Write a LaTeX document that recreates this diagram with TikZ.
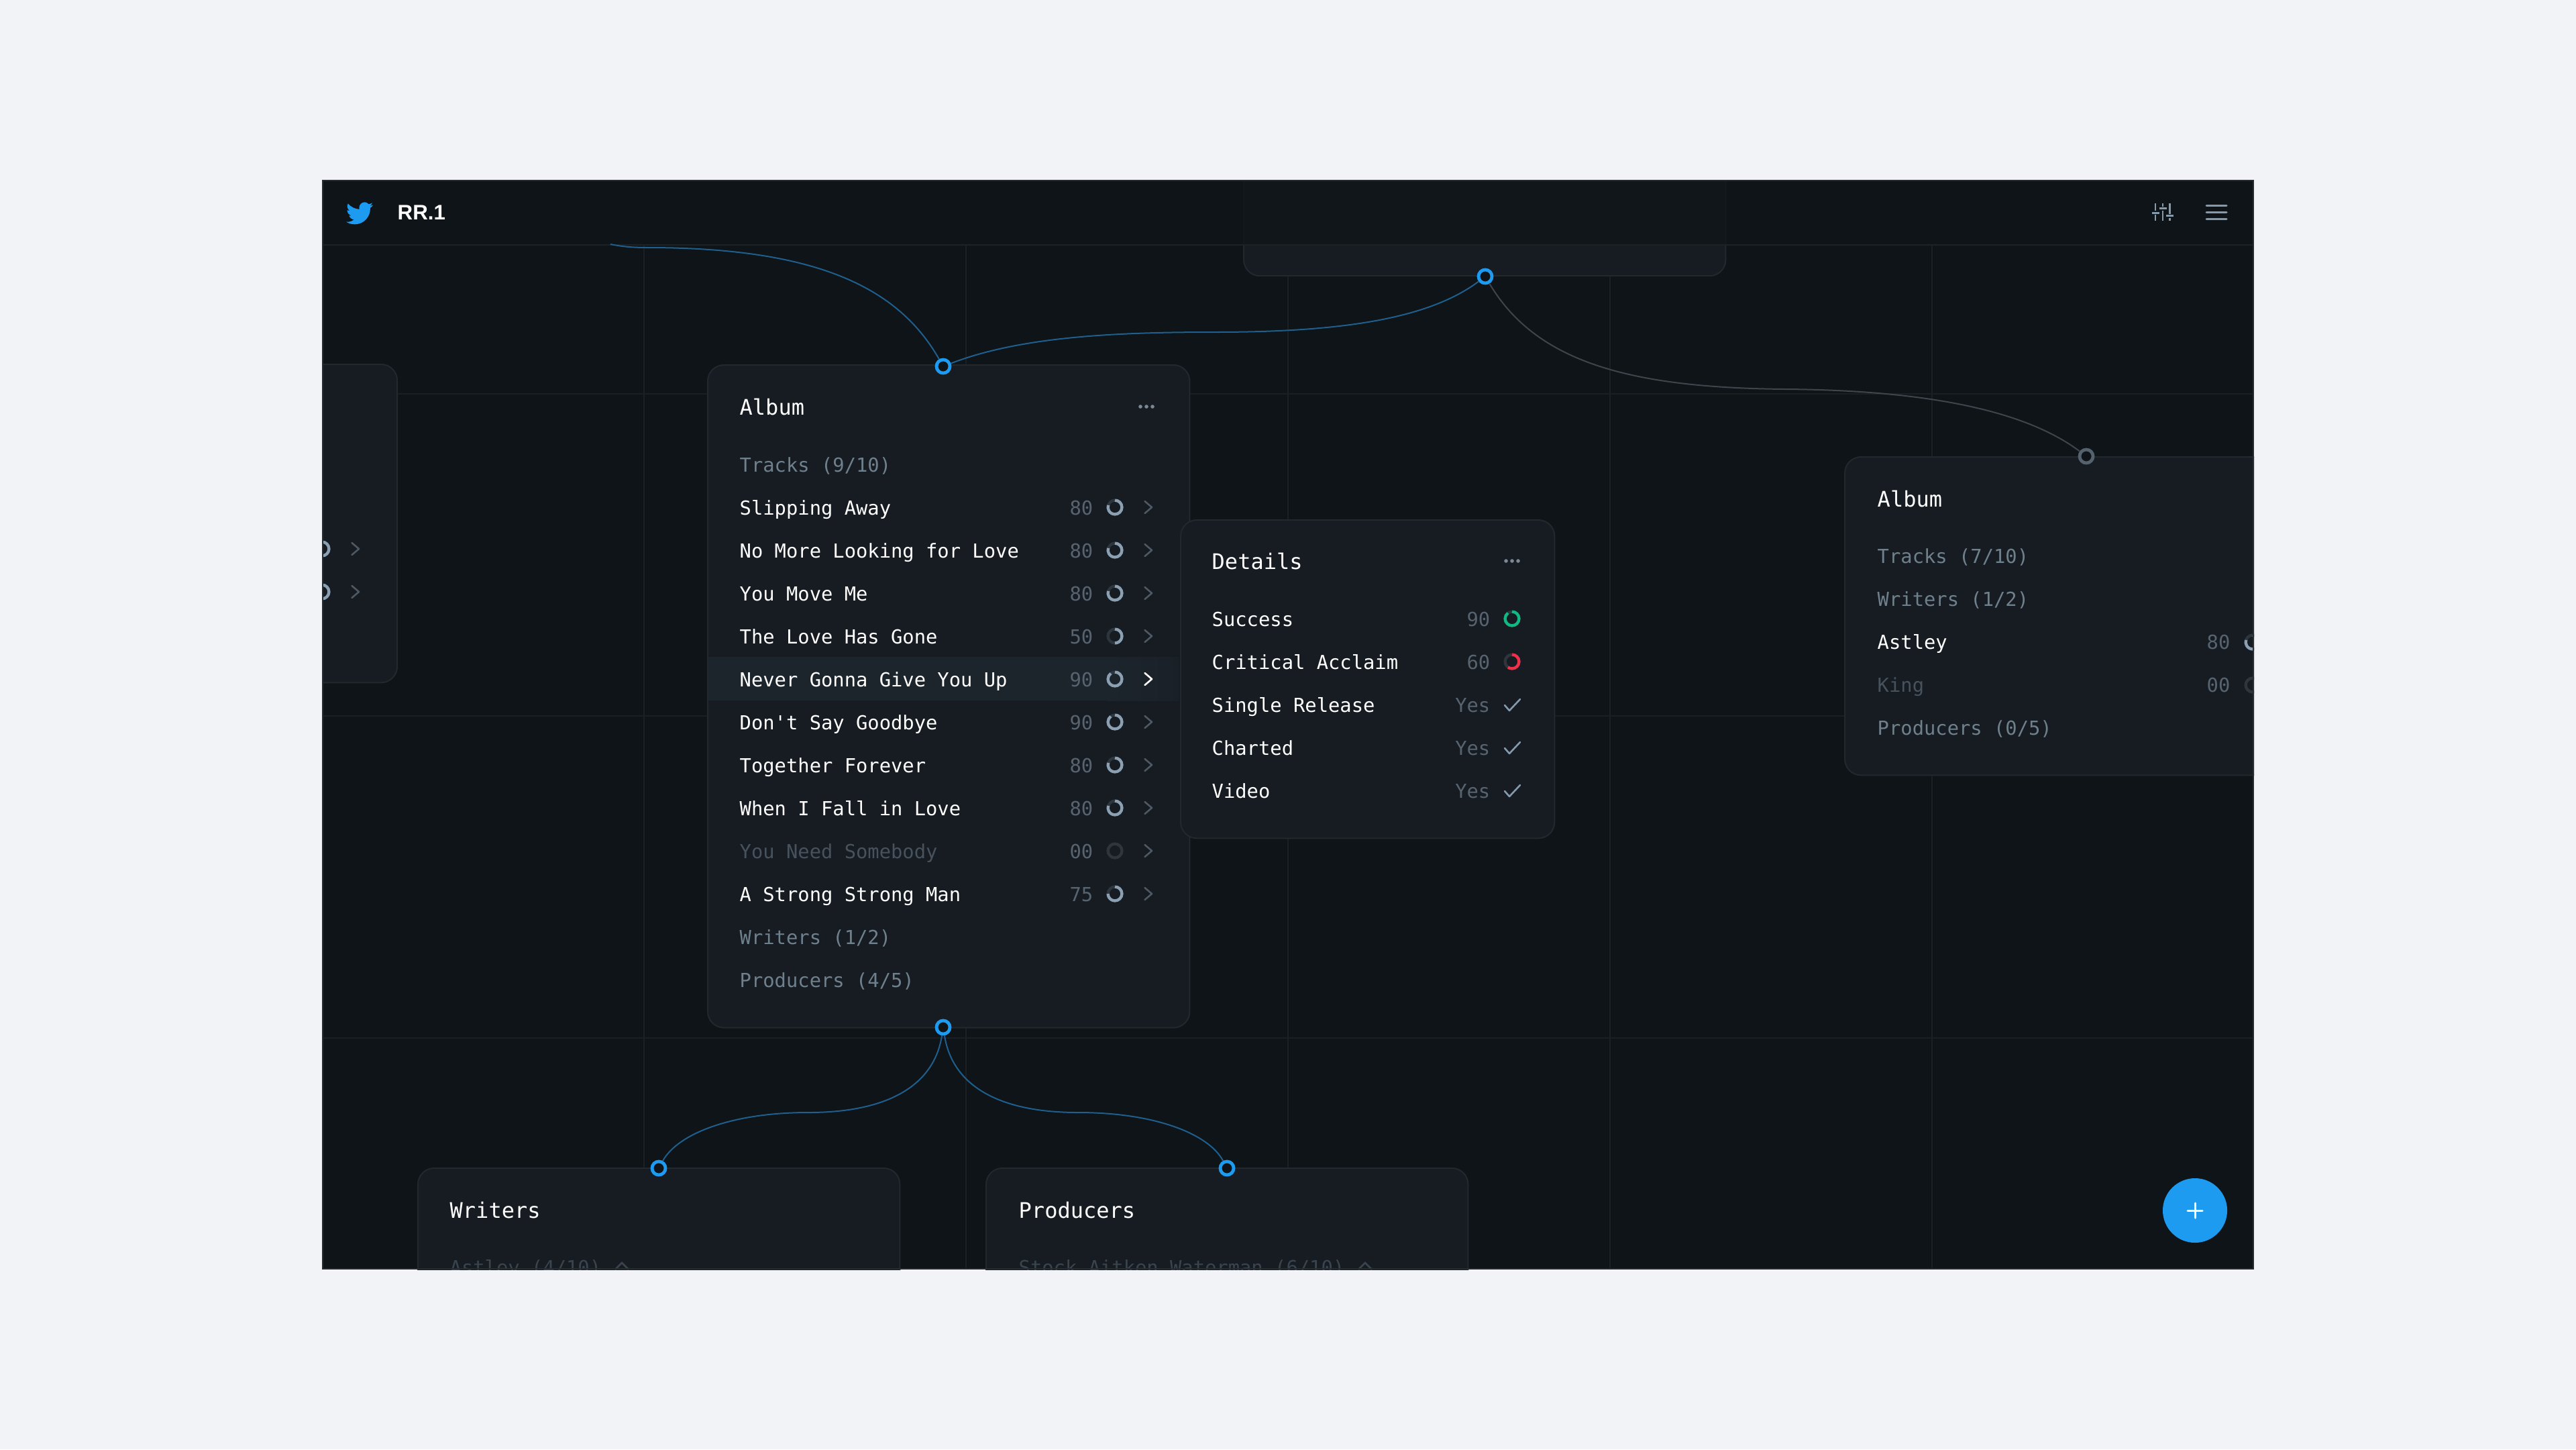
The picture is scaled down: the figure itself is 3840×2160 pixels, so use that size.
\documentclass[tikz,border=0pt]{standalone}
\usepackage{fontspec}
\setmainfont{Liberation Sans}
\setmonofont{DejaVu Sans Mono}
\definecolor{pagebg}{HTML}{F1F3F7}
\definecolor{appbg}{HTML}{0F1418}
\definecolor{cardbg}{HTML}{171C23}
\definecolor{cardline}{HTML}{23282F}
\definecolor{gridline}{HTML}{1A1F24}
\definecolor{frameline}{HTML}{272C31}
\definecolor{hilite}{HTML}{1D252C}
\definecolor{twblue}{HTML}{1D9BF0}
\definecolor{wireblue}{HTML}{1F5F8E}
\definecolor{wiregray}{HTML}{3E454C}
\definecolor{portgray}{HTML}{54626E}
\definecolor{txtmain}{HTML}{FFFFFF}
\definecolor{txtsect}{HTML}{6F808D}
\definecolor{txtdim}{HTML}{47525C}
\definecolor{txtnum}{HTML}{57646F}
\definecolor{txtcut}{HTML}{3A444E}
\definecolor{dotcol}{HTML}{7C8894}
\definecolor{chevgray}{HTML}{4E5862}
\definecolor{ringtrack}{HTML}{2E353D}
\definecolor{ringbar}{HTML}{8CA0B3}
\definecolor{okgreen}{HTML}{10B981}
\definecolor{badred}{HTML}{F0304A}
\definecolor{iconcol}{HTML}{8499AA}
\tikzset{
  cardbox/.style={draw=cardline, line width=0.02cm, fill=cardbg, rounded corners=0.24cm, inner sep=0pt, outer sep=0pt, anchor=north west},
  port/.style={circle, draw=twblue, line width=0.048cm, fill=appbg, minimum size=0.2cm, inner sep=0pt},
  wire/.style={draw=wireblue, line width=0.02cm},
  title/.style={anchor=base west, inner sep=0pt, text=txtmain, font=\fontsize{9.1}{11}\selectfont\ttfamily},
  rowtext/.style={anchor=base west, inner sep=0pt, font=\fontsize{8.19}{10}\selectfont\ttfamily},
  numtext/.style={anchor=base east, inner sep=0pt, text=txtnum, font=\fontsize{8.19}{10}\selectfont\ttfamily},
  chev/.style={line width=0.026cm, line cap=round, line join=round},
  tick/.style={draw=iconcol, line width=0.026cm, line cap=round, line join=round},
  iconbar/.style={draw=iconcol, line width=0.028cm}
}
% score ring: x, y, percent, colour
\newcommand{\scorering}[4]{
  \draw[ringtrack, line width=0.043cm] (#1,#2) circle (10.4);
  \draw[#4, line width=0.043cm] (#1,#2-10.4) arc[start angle=-90, delta angle=#3*3.6, radius=10.4];
}
\newcommand{\chevron}[3]{
  \draw[chev, #3] (#1-5.5,#2-9) -- (#1+5,#2) -- (#1-5.5,#2+9);
}
\newcommand{\threedots}[2]{
  \foreach \d in {-9,0,9} \fill[dotcol] (#1+\d,#2) circle (2.8);
}
\begin{document}
\begin{tikzpicture}[x=0.01cm, y=-0.01cm]
  \useasboundingbox (0,0) rectangle (3840,2160);
  \fill[pagebg] (0,0) rectangle (3840,2160);
  \begin{scope}
    \clip (480,268) rectangle (3360,1892);
    \fill[appbg] (480,268) rectangle (3360,1892);

    % Grid behind the cards
    \foreach \gx in {960,1440,1920,2400,2880} \draw[gridline, line width=0.02cm] (\gx,365) -- (\gx,1892);
    \foreach \gy in {587,1067,1547} \draw[gridline, line width=0.02cm] (480,\gy) -- (3360,\gy);

    % Cards
    \node[cardbox, minimum width=7.18cm, minimum height=3.11cm] (topcard) at (1854,100) {};
    \node[cardbox, minimum width=2.2cm, minimum height=4.74cm] (leftcard) at (372,543) {};
    \node[cardbox, minimum width=7.18cm, minimum height=9.87cm] (albumcard) at (1055,544) {};
    \node[cardbox, minimum width=7.5cm, minimum height=4.74cm] (sidecard) at (2750,681) {};
    \node[cardbox, minimum width=7.18cm, minimum height=3cm] (writercard) at (623,1741) {};
    \node[cardbox, minimum width=7.18cm, minimum height=3cm] (producercard) at (1470,1741) {};

    % Left card, only its rings and arrows are in view
    \foreach \ly in {818,882} {
      \scorering{480}{\ly}{90}{ringbar}
      \chevron{530}{\ly}{chevgray}
    }

    % Main album
    \node[title] (albumhead) at (1102,618) {Album};
    \threedots{1709}{606}
    \node[rowtext, text=txtsect] (albumtracks) at (1102,703) {Tracks (9/10)};
    \fill[hilite] (1056,979) rectangle (1650,1044);
    \shade[left color=hilite, right color=hilite!45!cardbg] (1650,979) rectangle (1757,1044);
    \foreach \i/\name/\val/\col/\arrow in {
      0/Slipping Away/80/txtmain/chevgray,
      1/No More Looking for Love/80/txtmain/chevgray,
      2/You Move Me/80/txtmain/chevgray,
      3/The Love Has Gone/50/txtmain/chevgray,
      4/Never Gonna Give You Up/90/txtmain/txtmain,
      5/Don't Say Goodbye/90/txtmain/chevgray,
      6/Together Forever/80/txtmain/chevgray,
      7/When I Fall in Love/80/txtmain/chevgray,
      8/You Need Somebody/00/txtdim/chevgray,
      9/A Strong Strong Man/75/txtmain/chevgray} {
      \pgfmathsetmacro\rowy{756+64*\i}
      \node[rowtext, text=\col] (track\i) at (1102,\rowy+11.5) {\name};
      \node[numtext] (score\i) at (1630,\rowy+11.5) {\val};
      \scorering{1662}{\rowy}{\val}{ringbar}
      \chevron{1712}{\rowy}{\arrow}
    }
    \node[rowtext, text=txtsect] (albumwriters) at (1102,1407) {Writers (1/2)};
    \node[rowtext, text=txtsect] (albumproducers) at (1102,1471) {Producers (4/5)};

    % Details card sits over the album edge
    \node[cardbox, minimum width=5.57cm, minimum height=4.74cm] (detailcard) at (1760,775) {};
    \node[title] (detailhead) at (1806,848) {Details};
    \threedots{2254}{836}
    \node[rowtext, text=txtmain] (success) at (1806,933) {Success};
    \node[numtext] (successval) at (2222,933) {90};
    \scorering{2254}{922}{90}{okgreen}
    \node[rowtext, text=txtmain] (acclaim) at (1806,997) {Critical Acclaim};
    \node[numtext] (acclaimval) at (2222,997) {60};
    \scorering{2254}{986}{60}{badred}
    \foreach \k/\name in {0/Single Release,1/Charted,2/Video} {
      \pgfmathsetmacro\rowy{1050+64*\k}
      \node[rowtext, text=txtmain] (flag\k) at (1806,\rowy+11) {\name};
      \node[numtext] (flagval\k) at (2222,\rowy+11) {Yes};
      \draw[tick] (2243,\rowy+1) -- (2250,\rowy+9) -- (2266,\rowy-8);
    }

    % Album on the right
    \node[title] (sidehead) at (2798,755) {Album};
    \node[rowtext, text=txtsect] (sidetracks) at (2798,839) {Tracks (7/10)};
    \node[rowtext, text=txtsect] (sidewriters) at (2798,903) {Writers (1/2)};
    \node[rowtext, text=txtmain] (sideastley) at (2798,967) {Astley};
    \node[numtext] (sideastleyval) at (3325,967) {80};
    \scorering{3358}{957}{80}{ringbar}
    \node[rowtext, text=txtdim] (sideking) at (2798,1031) {King};
    \node[numtext] (sidekingval) at (3325,1031) {00};
    \scorering{3358}{1021}{0}{ringbar}
    \node[rowtext, text=txtsect] (sideproducers) at (2798,1095) {Producers (0/5)};

    % Bottom cards, cut by the window
    \node[title] (writerhead) at (670,1815) {Writers};
    \node[title] (producerhead) at (1518,1815) {Producers};
    \node[rowtext, text=txtcut] (astley) at (670,1899) {Astley (4/10)};
    \node[rowtext, text=txtcut] (saw) at (1518,1899) {Stock Aitken Waterman (6/10)};
    \draw[txtcut, line width=0.026cm] (917,1892) -- (927,1882) -- (937,1892);
    \draw[txtcut, line width=0.026cm] (2025,1892) -- (2035,1882) -- (2045,1892);

    % Top bar, the top card shows through it
    \fill[appbg, opacity=0.7] (480,268) rectangle (3360,365);
    \draw[gridline!70!cardline, line width=0.02cm] (480,365) -- (3360,365);
    \begin{scope}[shift={(516,298)}, x=0.01667cm, y=-0.01667cm]
      \fill[twblue] (23.953,4.57) .. controls (23.08,4.96) and (22.13,5.22) .. (21.128,5.345)
        .. controls (22.14,4.73) and (22.92,3.76) .. (23.291,2.622)
        .. controls (22.34,3.177) and (21.286,3.581) .. (20.164,3.806)
        .. controls (19.2,2.7) and (17.9,2) .. (16.6,2)
        .. controls (13.9,2) and (11.68,4.2) .. (11.68,6.9)
        .. controls (11.68,7.3) and (11.72,7.8) .. (11.78,8.288)
        .. controls (7.69,8.095) and (4.067,6.13) .. (1.64,3.162)
        .. controls (1.22,3.89) and (0.974,4.73) .. (0.974,5.637)
        .. controls (0.974,7.347) and (1.844,8.85) .. (3.162,9.733)
        .. controls (2.36,9.71) and (1.6,9.49) .. (0.934,9.117)
        -- (0.934,9.177)
        .. controls (0.934,11.56) and (2.63,13.55) .. (4.88,14.004)
        .. controls (4.17,14.19) and (3.4,14.22) .. (2.668,14.089)
        .. controls (3.3,16.05) and (5.13,17.46) .. (7.272,17.506)
        .. controls (5.6,18.82) and (3.48,19.611) .. (1.17,19.611)
        .. controls (0.78,19.611) and (0.391,19.588) .. (0,19.544)
        .. controls (2.26,21) and (4.82,21.753) .. (7.557,21.753)
        .. controls (16.61,21.753) and (21.555,14.257) .. (21.555,7.768)
        .. controls (21.555,7.558) and (21.555,7.348) .. (21.54,7.138)
        .. controls (22.5,6.44) and (23.33,5.58) .. (24,4.59) -- cycle;
    \end{scope}
    \node[anchor=base west, inner sep=0pt, text=txtmain, font=\fontsize{8.9}{11}\selectfont\bfseries] (appname) at (592,327) {RR.1};

    % Ports
    \node[port] (albumtop) at (1406,546) {};
    \node[port] (albumbottom) at (1406,1531) {};
    \node[port] (topport) at (2214,412) {};
    \node[port, draw=portgray] (sideport) at (3110,680) {};
    \node[port] (writerport) at (982,1741) {};
    \node[port] (producerport) at (1829,1741) {};
    \coordinate (offleft) at (910,364);
    \coordinate (bendleft) at (965,369);
    \coordinate (bendtop) at (1810,495);
    \coordinate (bendside) at (2662,580);
    \coordinate (bendwriter) at (1205,1658);
    \coordinate (bendproducer) at (1607,1658);

    % Connectors
    \draw[wire] (offleft) .. controls (925,367) and (940,369) .. (bendleft) .. controls (1220,369) and (1340,430) .. (albumtop);
    \draw[wire] (albumtop) .. controls (1520,502) and (1660,495) .. (bendtop) .. controls (2000,495) and (2130,475) .. (topport);
    \draw[wire, draw=wiregray] (topport) .. controls (2290,540) and (2430,578) .. (bendside) .. controls (2900,582) and (3030,620) .. (sideport);
    \draw[wire] (albumbottom) .. controls (1392,1620) and (1320,1658) .. (bendwriter) .. controls (1090,1658) and (1010,1690) .. (writerport);
    \draw[wire] (albumbottom) .. controls (1420,1620) and (1492,1658) .. (bendproducer) .. controls (1722,1658) and (1802,1690) .. (producerport);

    % Slider and menu icons
    \foreach \bx/\ky in {3213/317.3,3224/310.7,3234.5/321.7} {
      \draw[iconbar] (\bx,303) -- (\bx,\ky-3);
      \draw[iconbar] (\bx,\ky+3) -- (\bx,329);
      \draw[iconbar] (\bx-5.5,\ky) -- (\bx+5.5,\ky);
    }
    \foreach \my in {306,316,326} \draw[iconbar, line cap=round, line width=0.03cm] (3289,\my) -- (3319,\my);

    % Add button
    \node[circle, fill=twblue, minimum size=0.96cm, inner sep=0pt] (addbutton) at (3272,1804) {};
    \draw[white, line width=0.03cm, line cap=round] (3272,1793) -- (3272,1815);
    \draw[white, line width=0.03cm, line cap=round] (3261,1804) -- (3283,1804);
  \end{scope}
  \draw[frameline, line width=0.02cm] (481,269) rectangle (3359,1891);
\end{tikzpicture}
\end{document}
